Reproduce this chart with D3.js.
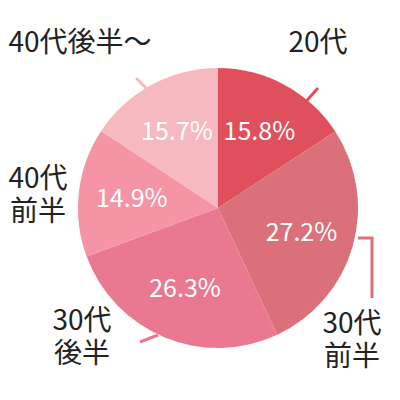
<!DOCTYPE html>
<html><head><meta charset="utf-8">
<script src="https://cdn.jsdelivr.net/npm/d3@7"></script>
<style>body{margin:0;background:#fff}</style>
</head><body>
<svg id="c" width="400" height="400"></svg>
<script>
const categories = ["20代", "30代前半", "30代後半", "40代前半", "40代後半〜"]
const values = [15.8, 27.2, 26.3, 14.9, 15.7]
const colors = ["#e0505c", "#d9707a", "#ea7891", "#f494a4", "#f7b9c0"]
const labelLines = [["20代"], ["30代", "前半"], ["30代", "後半"], ["40代", "前半"], ["40代後半〜"]]

const cx = 218, cy = 208, r = 140
const svg = d3.select("#c")
const g = svg.append("g").attr("transform", `translate(${cx},${cy})`)

const pie = d3.pie().value(d => d).sort(null)
const arc = d3.arc().innerRadius(0).outerRadius(r)
const labelArc = d3.arc().innerRadius(r * 0.62).outerRadius(r * 0.62)
const data = pie(values)

g.selectAll("path").data(data).enter().append("path")
    .attr("d", arc)
    .attr("fill", (d, i) => colors[i])

g.selectAll("text.pct").data(data).enter().append("text")
    .attr("class", "pct")
    .attr("transform", d => `translate(${labelArc.centroid(d)})`)
    .attr("text-anchor", "middle")
    .attr("dy", "0.35em")
    .attr("fill", "#fff")
    .attr("font-family", "Noto Sans CJK JP")
    .attr("font-size", 25)
    .text(d => d.data.toFixed(1) + "%")

// leader lines (absolute coords)
const leaders = [
    [[318, 88], [302, 106]],
    [[358, 238], [372, 238], [372, 298]],
    [[140, 342], [158, 335]],
    null,
    [[136, 78], [152, 94]]
]
const line = d3.line()
leaders.forEach((pts, i) => {
    if (!pts) return
    svg.append("path").attr("d", line(pts)).attr("fill", "none")
        .attr("stroke", colors[i]).attr("stroke-width", 3)
})

const labelPos = [[318, 52], [352, 333], [82, 330], [38, 188], [80, 52]]
labelLines.forEach((lines, i) => {
    lines.forEach((s, j) => svg.append("text")
        .attr("x", labelPos[i][0]).attr("y", labelPos[i][1] + j * 33)
        .attr("text-anchor", "middle")
        .attr("font-family", "Noto Sans CJK JP")
        .attr("font-size", 28)
        .attr("fill", "#222")
        .text(s))
})
</script>
</body></html>
